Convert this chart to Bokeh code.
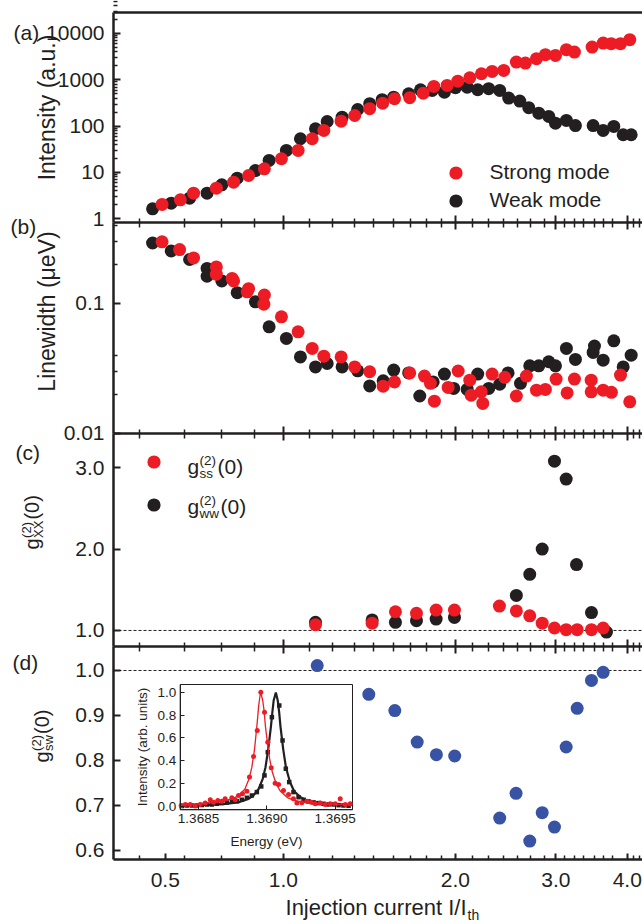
import math
from bokeh.plotting import figure
from bokeh.models import (Range1d, LogAxis, LinearAxis, FixedTicker, Label,
                          LinearScale, LogScale, NumeralTickFormatter, Legend, LegendItem)
from bokeh.embed import file_html
from bokeh.resources import INLINE

# ---------------- data ----------------
# (a) intensity vs injection current
A_STRONG_X = [0.613, 0.660, 0.696, 0.763, 0.818, 0.869, 0.926, 0.992, 1.061, 1.123,
              1.177, 1.262, 1.333, 1.416, 1.492, 1.565, 1.664, 1.757, 1.834, 1.935,
              2.020, 2.120, 2.222, 2.320, 2.431, 2.558, 2.653, 2.774, 2.876, 2.995,
              3.130, 3.233, 3.472, 3.630, 3.749, 3.893, 4.041]
A_STRONG_Y = [2.04, 2.57, 3.57, 4.58, 6.17, 8.61, 12.0, 19.8, 29.9, 53.4,
              80.7, 128, 170, 238, 314, 391, 411, 516, 720, 757,
              937, 1110, 1354, 1518, 1596, 2412, 2296, 2857, 3483, 3365,
              4467, 3963, 5082, 6207, 6023, 6023, 7345]
A_WEAK_X = [0.590, 0.636, 0.685, 0.735, 0.780, 0.830, 0.893, 0.944, 1.012, 1.071,
            1.138, 1.193, 1.267, 1.349, 1.416, 1.489, 1.560, 1.657, 1.738, 1.822,
            1.914, 2.001, 2.098, 2.189, 2.288, 2.392, 2.480, 2.593, 2.689, 2.800,
            2.915, 2.995, 3.130, 3.246, 3.486, 3.630, 3.789, 3.935, 4.064]
A_WEAK_Y = [1.64, 2.17, 2.79, 3.57, 5.42, 7.53, 11.0, 18.2, 29.9, 53.4,
            87.9, 126, 156, 229, 305, 372, 423, 501, 611, 590,
            542, 675, 695, 611, 643, 590, 403, 347, 250, 191,
            162, 116, 133, 103, 103, 80.7, 98.5, 65.2, 65.2]

# (b) linewidth (ueV)
B_STRONG_X = [0.613, 0.658, 0.696, 0.763, 0.763, 0.813, 0.818, 0.864, 0.869, 0.924,
              0.926, 0.992, 1.061, 1.123, 1.177, 1.262, 1.333, 1.416, 1.495,
              1.565, 1.664, 1.766, 1.809, 1.838, 1.943, 2.023, 2.120, 2.132, 2.220,
              2.234, 2.320, 2.441, 2.558, 2.664, 2.774, 2.876, 3.003, 3.139, 3.233,
              3.459, 3.459, 3.630, 3.753, 3.893, 4.041]
B_STRONG_Y = [0.298, 0.260, 0.224, 0.191, 0.168, 0.156, 0.149, 0.123, 0.130, 0.0988,
              0.116, 0.0789, 0.0605, 0.0451, 0.0393, 0.0388, 0.0325, 0.0298, 0.0231,
              0.0249, 0.0292, 0.0276, 0.0243, 0.0177, 0.0226, 0.0302, 0.0257, 0.0197, 0.0209,
              0.0170, 0.0286, 0.0270, 0.0194, 0.0276, 0.0215, 0.0218, 0.0262, 0.0205, 0.0262,
              0.0257, 0.0209, 0.0215, 0.0207, 0.0281, 0.0175]
B_WEAK_X = [0.590, 0.636, 0.685, 0.735, 0.735, 0.780, 0.830, 0.893, 0.944, 1.012,
            1.071, 1.138, 1.193, 1.267, 1.349, 1.416, 1.495, 1.560, 1.657, 1.733,
            1.829, 1.914, 1.987, 2.098, 2.189, 2.288, 2.392, 2.474, 2.601, 2.700,
            2.800, 2.915, 2.995, 3.130, 3.246, 3.486, 3.505, 3.630, 3.789, 3.935, 4.064]
B_WEAK_Y = [0.292, 0.254, 0.218, 0.186, 0.162, 0.149, 0.121, 0.103, 0.0661, 0.0538,
            0.0388, 0.0325, 0.0345, 0.0325, 0.0303, 0.0232, 0.0254, 0.0307, 0.0292, 0.0194,
            0.0249, 0.0286, 0.0222, 0.0218, 0.0286, 0.0222, 0.0239, 0.0292, 0.0243, 0.0331,
            0.0331, 0.0356, 0.0331, 0.0451, 0.0371, 0.0420, 0.0470, 0.0366, 0.0516, 0.0325, 0.0400]

# (c) g2 auto-correlations
C_STRONG_X = [1.138, 1.430, 1.571, 1.710, 1.851, 1.993, 2.389, 2.558, 2.700, 2.839,
              2.983, 3.127, 3.269, 3.463, 3.630]
C_STRONG_Y = [1.07, 1.09, 1.23, 1.21, 1.25, 1.25, 1.30, 1.24, 1.18, 1.09,
              1.03, 1.01, 1.01, 1.01, 1.03]
C_WEAK_X = [1.138, 1.430, 1.571, 1.710, 1.851, 1.993, 2.558, 2.700, 2.839, 2.983,
            3.127, 3.260, 3.463, 3.679]
C_WEAK_Y = [1.10, 1.13, 1.10, 1.12, 1.14, 1.16, 1.43, 1.69, 2.00, 3.08,
            2.86, 1.81, 1.22, 0.98]
C_REF = 1.0

# (d) cross-correlation
D_X = [1.146, 1.411, 1.567, 1.715, 1.853, 1.995, 2.392, 2.555, 2.700, 2.839,
       2.983, 3.127, 3.269, 3.463, 3.630]
D_Y = [1.011, 0.947, 0.911, 0.841, 0.813, 0.810, 0.672, 0.727, 0.621, 0.684,
       0.652, 0.830, 0.916, 0.978, 0.996]
D_REF = 1.0

# inset spectra
INSET_RED_E = [1.368373, 1.368403, 1.368439, 1.368476, 1.368512, 1.368549, 1.368586, 1.368610,
               1.368641, 1.368671, 1.368695, 1.368744, 1.368769, 1.368793, 1.368822, 1.368854,
               1.368873, 1.368903, 1.368930, 1.368956, 1.368983, 1.369007, 1.369032, 1.369061,
               1.369086, 1.369122, 1.369159, 1.369195, 1.369220, 1.369256, 1.369293, 1.369325,
               1.369354, 1.369391, 1.369427, 1.369464, 1.369501, 1.369537, 1.369574, 1.369610]
INSET_RED_I = [0.005, 0.014, 0.014, 0.0, 0.014, 0.026, 0.055, 0.034, 0.049, 0.043,
               0.064, 0.073, 0.055, 0.093, 0.108, 0.131, 0.255, 0.437, 0.666, 1.003,
               0.827, 0.563, 0.337, 0.202, 0.190, 0.137, 0.102, 0.064, 0.026, 0.029,
               0.043, 0.034, 0.020, 0.026, 0.014, 0.020, 0.020, 0.064, 0.014, 0.020]
INSET_BLK_E = [1.368378, 1.368414, 1.368451, 1.368488, 1.368524, 1.368561, 1.368597, 1.368634,
               1.368671, 1.368707, 1.368744, 1.368780, 1.368817, 1.368854, 1.368890, 1.368927,
               1.368959, 1.368983, 1.369007, 1.369037, 1.369091, 1.369115, 1.369139,
               1.369164, 1.369195, 1.369232, 1.369269, 1.369305, 1.369342, 1.369378, 1.369415,
               1.369452, 1.369488, 1.369525, 1.369561, 1.369598]
INSET_BLK_I = [0.0, 0.005, 0.005, 0.005, 0.010, 0.014, 0.014, 0.020, 0.026, 0.032,
               0.038, 0.043, 0.055, 0.073, 0.093, 0.123, 0.173, 0.270, 0.475, 0.783,
               0.886, 0.578, 0.329, 0.211, 0.123, 0.078, 0.055, 0.041, 0.032, 0.026,
               0.020, 0.014, 0.014, 0.008, 0.005, 0.003]
INSET_RED_FIT_E = [1.36837, 1.36850, 1.36860, 1.36870, 1.36876, 1.36880, 1.36884, 1.36887, 1.36889,
                   1.36891, 1.36893, 1.36894, 1.36895, 1.368956, 1.36897, 1.36898, 1.36899, 1.36900,
                   1.36902, 1.36904, 1.36907, 1.36910, 1.36915, 1.36920, 1.36930, 1.36945, 1.36962]
INSET_RED_FIT_I = [0.012, 0.02, 0.03, 0.05, 0.07, 0.10, 0.15, 0.24, 0.34,
                   0.50, 0.74, 0.88, 0.97, 1.0, 0.93, 0.84, 0.70, 0.60,
                   0.42, 0.30, 0.19, 0.13, 0.075, 0.05, 0.028, 0.016, 0.01]
INSET_BLK_FIT_E = [1.36837, 1.36850, 1.36860, 1.36870, 1.36880, 1.36886, 1.36890, 1.36894, 1.36897,
                   1.36899, 1.36901, 1.36903, 1.36904, 1.36905, 1.369066, 1.36908, 1.36909, 1.36910,
                   1.36912, 1.36914, 1.36917, 1.36920, 1.36925, 1.36930, 1.36940, 1.36950, 1.36962]
INSET_BLK_FIT_I = [0.005, 0.008, 0.012, 0.02, 0.035, 0.06, 0.09, 0.15, 0.24,
                   0.34, 0.50, 0.70, 0.82, 0.93, 1.0, 0.93, 0.83, 0.70,
                   0.50, 0.34, 0.21, 0.13, 0.075, 0.045, 0.022, 0.013, 0.008]

# ticks / labels
X_TICKS = [1.0, 2.0, 3.0, 4.0]
X_BOTTOM_TICKS = [0.621, 1.0, 2.0, 3.0, 4.0]
X_BOTTOM_LABELS = ["0.5", "1.0", "2.0", "3.0", "4.0"]
X_MINOR = [0.56, 0.67, 0.78, 0.89, 1.11, 1.22, 1.33, 1.44, 1.56, 1.67, 1.78, 1.89,
           2.14, 2.29, 2.43, 2.57, 2.71, 2.86, 3.1, 3.23, 3.36, 3.5, 3.64, 3.77, 4.1, 4.2]
A_TICKS = [1, 10, 100, 1000, 10000]
A_LABELS = ["1", "10", "100", "1000", "10000"]
A_MINOR = [m * 10 ** k for k in range(0, 5) for m in range(2, 10)]
B_TICKS = [0.01, 0.1]
B_LABELS = ["0.01", "0.1"]
B_MINOR = [0.02, 0.03, 0.04, 0.2, 0.3, 0.4]
C_TICKS = [1.0, 2.0, 3.0]
D_TICKS = [0.6, 0.7, 0.8, 0.9, 1.0]
INSET_E_TICKS = [1.3685, 1.3690, 1.3695]
INSET_I_TICKS = [0.0, 0.2, 0.4, 0.6, 0.8, 1.0]

# panel value ranges
X_PANEL = (0.504, 4.254)
YA = (0.832, 28400)
YB = (0.00998, 0.42)
YC = (0.803, 3.42)
YD = (0.58, 1.0533)
INSET_E = (1.368366, 1.369627)
INSET_I = (-0.033, 1.071)

RED = "#ED1C24"
BLACK = "#231F20"
BLUE = "#3953A4"
FONT = "Liberation Sans"

# ---------------- layout geometry (page pixels; the plot frame fills the canvas) ----------------
W, H = 642, 922
PANEL_L, PANEL_R = 113, 642
BAND_A = (12, 222)
BAND_B = (222, 433)
BAND_C = (433, 646)
BAND_D = (646, 859)
INSET_BOX = (179.7, 684, 352, 809.3)  # left, top, right, bottom
BASELINE_SHIFT = 0.27  # Bokeh draws 'alphabetic' text this fraction of the size lower


def ext_y(v0, v1, band, log=False):
    top, bot = band
    if log:
        v0, v1 = math.log10(v0), math.log10(v1)
    per = (v1 - v0) / (bot - top)
    s, e = v0 - (H - bot) * per, v1 + top * per
    return (10 ** s, 10 ** e) if log else (s, e)


def ext_x(v0, v1, left, right, log=False):
    if log:
        v0, v1 = math.log10(v0), math.log10(v1)
    per = (v1 - v0) / (right - left)
    s, e = v0 - left * per, v1 + (W - right) * per
    return (10 ** s, 10 ** e) if log else (s, e)


p = figure(width=W, height=H, x_axis_type="log", y_axis_type="linear",
           x_range=Range1d(*ext_x(*X_PANEL, PANEL_L, PANEL_R, log=True)),
           y_range=Range1d(*ext_y(*YD, BAND_D)),
           x_axis_location=None, y_axis_location=None,
           toolbar_location=None, output_backend="svg",
           min_border_left=0, min_border_right=0, min_border_top=0, min_border_bottom=0,
           outline_line_color=None, background_fill_color="white",
           border_fill_color="white")
for g in p.grid:
    g.visible = False

p.extra_y_ranges = {"a": Range1d(*ext_y(*YA, BAND_A, log=True)),
                    "b": Range1d(*ext_y(*YB, BAND_B, log=True)),
                    "c": Range1d(*ext_y(*YC, BAND_C)),
                    "iy": Range1d(*ext_y(*INSET_I, (INSET_BOX[1], INSET_BOX[3])))}
p.extra_y_scales = {"a": LogScale(), "b": LogScale(), "c": LinearScale(), "iy": LinearScale()}
p.extra_x_ranges = {"ix": Range1d(*ext_x(*INSET_E, INSET_BOX[0], INSET_BOX[2]))}
p.extra_x_scales = {"ix": LinearScale()}


def base_style(ax, lw=2.5):
    ax.axis_line_width = lw
    ax.axis_line_color = BLACK
    ax.major_tick_line_color = BLACK
    ax.minor_tick_line_color = BLACK
    ax.major_tick_line_width = 2
    ax.minor_tick_line_width = 1.5
    ax.major_label_text_font = FONT
    ax.major_label_text_font_size = "21px"
    ax.major_label_text_color = BLACK


def left_axis(cls, rng, bounds, ticks, labels=None, minor=None, fmt=None):
    ax = cls(y_range_name=rng, fixed_location=X_PANEL[0], bounds=bounds,
             ticker=FixedTicker(ticks=ticks, minor_ticks=minor or []))
    base_style(ax)
    ax.major_tick_in, ax.major_tick_out = 7, 0
    ax.minor_tick_in, ax.minor_tick_out = 4, 0
    ax.major_label_standoff = 9
    if labels is not None:
        ax.major_label_overrides = {float(t): l for t, l in zip(ticks, labels)}
    if fmt is not None:
        ax.formatter = fmt
    p.add_layout(ax, "left")


left_axis(LogAxis, "a", YA, A_TICKS, A_LABELS, A_MINOR)
left_axis(LogAxis, "b", YB, B_TICKS, B_LABELS, B_MINOR)
left_axis(LinearAxis, "c", YC, C_TICKS, fmt=NumeralTickFormatter(format="0.0"))
left_axis(LinearAxis, "default", YD, D_TICKS, fmt=NumeralTickFormatter(format="0.0"))

# shared boundaries between panels: ticks crossing both ways, no labels
for rng, loc in (("a", YA[0]), ("b", YB[0]), ("c", YC[0])):
    ax = LogAxis(y_range_name=rng, fixed_location=loc, bounds=X_PANEL,
                 ticker=FixedTicker(ticks=X_TICKS, minor_ticks=X_MINOR))
    base_style(ax)
    ax.major_tick_in, ax.major_tick_out = 7, 7
    ax.minor_tick_in, ax.minor_tick_out = 4, 5
    ax.major_label_text_color = None
    p.add_layout(ax, "below")

# top line of panel (a)
top = LogAxis(y_range_name="a", fixed_location=YA[1], bounds=X_PANEL, ticker=FixedTicker(ticks=[]))
base_style(top)
top.major_tick_in = top.major_tick_out = 0
top.minor_tick_in = top.minor_tick_out = 0
top.major_label_text_color = None
p.add_layout(top, "above")

# bottom axis with labels
bx = LogAxis(fixed_location=YD[0], bounds=X_PANEL,
             ticker=FixedTicker(ticks=X_BOTTOM_TICKS, minor_ticks=X_MINOR))
base_style(bx)
bx.major_tick_in, bx.major_tick_out = 6, 0
bx.minor_tick_in, bx.minor_tick_out = 4, 0
bx.major_label_standoff = 13
bx.major_label_overrides = {float(t): l for t, l in zip(X_BOTTOM_TICKS, X_BOTTOM_LABELS)}
p.add_layout(bx, "below")

# dashed reference lines at g2 = 1 (only across the panels)
p.segment(x0=X_PANEL[0], x1=X_PANEL[1], y0=C_REF, y1=C_REF, y_range_name="c",
          line_color=BLACK, line_width=1, line_dash="3 2")
p.segment(x0=X_PANEL[0], x1=X_PANEL[1], y0=D_REF, y1=D_REF,
          line_color=BLACK, line_width=1, line_dash="3 2")

MS = 13
r_a_w = p.scatter(A_WEAK_X, A_WEAK_Y, y_range_name="a", size=MS, fill_color=BLACK, line_color=None)
r_a_s = p.scatter(A_STRONG_X, A_STRONG_Y, y_range_name="a", size=MS, fill_color=RED, line_color=None)
p.scatter(B_WEAK_X, B_WEAK_Y, y_range_name="b", size=MS, fill_color=BLACK, line_color=None)
p.scatter(B_STRONG_X, B_STRONG_Y, y_range_name="b", size=MS, fill_color=RED, line_color=None)
r_c_w = p.scatter(C_WEAK_X, C_WEAK_Y, y_range_name="c", size=MS, fill_color=BLACK, line_color=None)
r_c_s = p.scatter(C_STRONG_X, C_STRONG_Y, y_range_name="c", size=MS, fill_color=RED, line_color=None)
p.scatter(D_X, D_Y, size=MS, fill_color=BLUE, line_color=None)

# ---------------- inset ----------------
p.quad(left=INSET_E[0], right=INSET_E[1], bottom=INSET_I[0], top=INSET_I[1],
       x_range_name="ix", y_range_name="iy", fill_color="white", line_color=BLACK, line_width=1)
p.line(INSET_BLK_FIT_E, INSET_BLK_FIT_I, x_range_name="ix", y_range_name="iy",
       line_color=BLACK, line_width=2.2)
p.scatter(INSET_BLK_E, INSET_BLK_I, x_range_name="ix", y_range_name="iy", marker="square",
          size=4.5, fill_color=BLACK, line_color=None)
p.line(INSET_RED_FIT_E, INSET_RED_FIT_I, x_range_name="ix", y_range_name="iy",
       line_color=RED, line_width=1.3)
p.scatter(INSET_RED_E, INSET_RED_I, x_range_name="ix", y_range_name="iy",
          size=5, fill_color=RED, line_color=None)


def inset_axis(side, ticks, fmt, bounds, loc, label, standoff):
    ax = LinearAxis(x_range_name="ix", y_range_name="iy", fixed_location=loc, bounds=bounds,
                    ticker=FixedTicker(ticks=ticks), formatter=NumeralTickFormatter(format=fmt))
    base_style(ax, lw=1)
    ax.major_tick_line_width = 1
    ax.major_tick_in, ax.major_tick_out = 4, 0
    ax.minor_tick_in = ax.minor_tick_out = 0
    ax.major_label_text_font_size = "13.5px"
    ax.major_label_standoff = 4
    ax.axis_label = label
    ax.axis_label_text_font = FONT
    ax.axis_label_text_font_size = "13.5px"
    ax.axis_label_text_font_style = "normal"
    ax.axis_label_text_color = BLACK
    ax.axis_label_standoff = standoff
    p.add_layout(ax, side)


inset_axis("below", INSET_E_TICKS, "0.0000", INSET_E, INSET_I[0], "Energy (eV)", 8)
inset_axis("left", INSET_I_TICKS, "0.0", INSET_I, INSET_E[0], "Intensity (arb. units)", 5)


# ---------------- legends ----------------
def legend(items, left, bottom, spacing=0, standoff=18):
    lg = Legend(items=items, location=(left, H - bottom), orientation="vertical",
                padding=0, margin=0, spacing=spacing, glyph_width=33, glyph_height=33,
                label_standoff=standoff, label_text_font=FONT, label_text_font_size="21px",
                label_text_color=BLACK, border_line_color=None, background_fill_alpha=0)
    p.add_layout(lg, "center")


legend([LegendItem(label="Strong mode", renderers=[r_a_s])], 438.5, 188.5)
legend([LegendItem(label="Weak mode", renderers=[r_a_w])], 438.5, 216.5)
legend([LegendItem(label=" ", renderers=[r_c_s]), LegendItem(label=" ", renderers=[r_c_w])],
       136.5, 520.5, spacing=10, standoff=0)


# ---------------- text labels (page px -> screen units, y up) ----------------
def lab(text, px, py, size=21, angle=0.0, align="left", baseline="alphabetic"):
    if baseline == "alphabetic":
        if angle == 0:
            py -= BASELINE_SHIFT * size
        else:
            px -= BASELINE_SHIFT * size
    p.add_layout(Label(x=px, y=H - py, x_units="screen", y_units="screen",
                       text=text, text_font=FONT, text_font_size=f"{size}px", text_color=BLACK,
                       angle=angle, text_align=align, text_baseline=baseline))


R90 = math.pi / 2
lab("(a)", 13, 38)
lab("(b)", 10, 232)
lab("(c)", 15, 458)
lab("(d)", 12, 668)
lab("Intensity (a.u.)", 46, 107, size=23, angle=R90, align="center", baseline="middle")
lab("Linewidth (\u03bceV)", 46, 311, size=23, angle=R90, align="center", baseline="middle")

# g_XX^(2)(0), rotated
lab("g", 37, 549, size=20, angle=R90)
lab("(2)", 30, 537.4, size=13, angle=R90)
lab("XX", 42, 537.4, size=13, angle=R90)
lab("(0)", 37, 519.1, size=20, angle=R90)
# g_sw^(2)(0), rotated
lab("g", 47, 762, size=20, angle=R90)
lab("(2)", 40, 750.4, size=13, angle=R90)
lab("sw", 52, 750.4, size=13, angle=R90)
lab("(0)", 47, 733.5, size=20, angle=R90)

# legend texts of panel (c)
lab("g", 187, 472)
lab("(2)", 199, 464, size=13.5)
lab("ss", 199, 477, size=13.5)
lab("(0)", 217, 472)
lab("g", 187, 512)
lab("(2)", 199, 504, size=13.5)
lab("ww", 199, 517, size=13.5)
lab("(0)", 220, 512)

# x axis title
lab("Injection current I/I", 466, 913, size=22, align="right")
lab("th", 467, 918, size=14)

open("out.html", "w").write(file_html(p, INLINE))
